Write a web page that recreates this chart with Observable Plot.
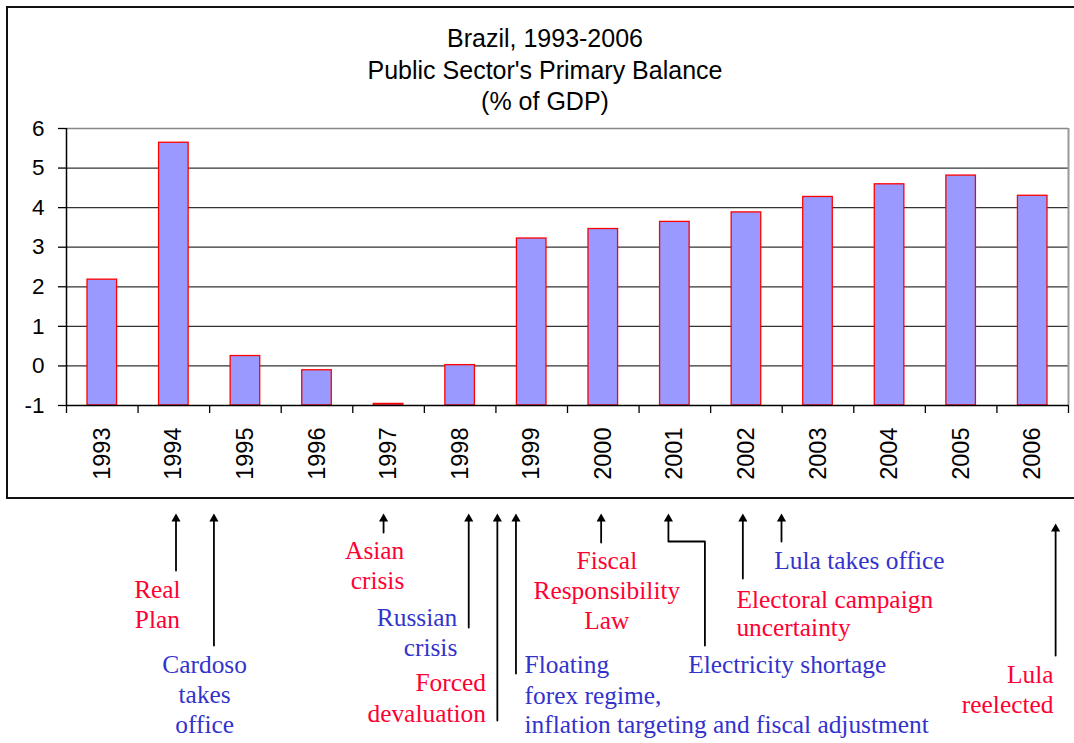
<!DOCTYPE html>
<html>
<head>
<meta charset="utf-8">
<script src="https://cdn.jsdelivr.net/npm/d3@7"></script>
<script src="https://cdn.jsdelivr.net/npm/@observablehq/plot@0.6"></script>
<style>
  html, body { margin: 0; padding: 0; background: #fff; }
  #wrap { position: relative; width: 1074px; height: 743px; overflow: hidden; }
  #box { position: absolute; left: 6px; top: 6px; width: 1100px; height: 489px; border: 2px solid #111; }
  #title { position: absolute; left: 0; width: 1090px; top: 23px; text-align: center;
           font-family: "Liberation Sans", Arial, sans-serif; font-size: 25px; line-height: 31.5px; color: #000; }
  .layer { position: absolute; left: 0; }
</style>
</head>
<body>
<div id="wrap">
  <div id="box"></div>
  <div id="title"></div>
  <div id="main" class="layer" style="top:0"></div>
  <div id="notes" class="layer" style="top:497px"></div>
</div>
<script>
// ---------- data ----------
const titleLines = ["Brazil, 1993-2006", "Public Sector's Primary Balance", "(% of GDP)"];
const years   = [1993, 1994, 1995, 1996, 1997, 1998, 1999, 2000, 2001, 2002, 2003, 2004, 2005, 2006];
const balance = [2.18, 5.64, 0.25, -0.11, -0.96, 0.02, 3.22, 3.46, 3.64, 3.88, 4.27, 4.59, 4.81, 4.30];
const yTicks  = [-1, 0, 1, 2, 3, 4, 5, 6];

// events (arrow date in fractional years)
const eventIds    = ["real", "cardoso", "asian", "russian", "forced", "floating", "fiscal", "electricity", "electoral", "lulaoffice", "lulare"];
const eventDates  = [1994.53, 1995.06, 1997.43, 1998.62, 1999.02, 1999.28, 2000.47, 2001.41, 2002.45, 2002.99, 2006.82];
const eventColors = ["red", "blue", "red", "blue", "red", "blue", "red", "blue", "red", "blue", "red"];
const eventLines  = [
  ["Real", "Plan"],
  ["Cardoso", "takes", "office"],
  ["Asian", "crisis"],
  ["Russian", "crisis"],
  ["Forced", "devaluation"],
  ["Floating", "forex regime,", "inflation targeting and fiscal adjustment"],
  ["Fiscal", "Responsibility", "Law"],
  ["Electricity shortage"],
  ["Electoral campaign", "uncertainty"],
  ["Lula takes office"],
  ["Lula", "reelected"]
];

// ---------- annotation layout ----------
const labelX      = [1994.27, 1994.93, 1997.72, 1998.46, 1998.86, 1999.40, 2000.55, 2003.07, 2002.36, 2002.89, 2006.79];
const labelAnchor = ["middle", "middle", "end", "end", "end", "start", "middle", "middle", "start", "start", "end"];
const labelBase   = [[597, 627], [672, 702, 732], [558, 588], [625, 655], [690, 721], [672, 703, 732], [568, 598, 628], [672], [607, 635], [568], [682, 712]];
const arrowTop    = [513, 513, 513, 513, 513, 513, 513, 513, 513, 513, 523];
const arrowBottom = [570, 645, 532, 627, 720, 673, 542, 645, 578, 541, 655];
const elbow = {id: "electricity", x: 2001.92, y: 541};

const palette = {red: "#ff0033", blue: "#3333cc"};

// ---------- title ----------
document.getElementById("title").innerHTML = titleLines.map(t => `<div>${t.replace("'", "&#39;")}</div>`).join("");

// ---------- main chart ----------
const data = years.map((year, i) => ({year, value: balance[i]}));
const main = Plot.plot({
  width: 1074, height: 497,
  marginLeft: 66, marginRight: 6, marginTop: 128, marginBottom: 92,
  style: {background: "transparent", fontFamily: '"Liberation Sans", Arial, sans-serif', color: "#000", overflow: "visible"},
  x: {domain: [1993, 2007], axis: null},
  y: {domain: [-1, 6], axis: null},
  marks: [
    Plot.ruleY(yTicks.filter(t => t >= 0 && t < 6), {stroke: "#333", strokeWidth: 1.2}),
    Plot.ruleY([6], {stroke: "#888", strokeWidth: 1.6}),
    Plot.ruleX([2007], {stroke: "#999", strokeWidth: 2}),
    Plot.rectY(data, {x1: "year", x2: d => d.year + 1, y1: -1, y2: "value", insetLeft: 21, insetRight: 21,
                      fill: "#9999ff", stroke: "#ff0000", strokeWidth: 1.3}),
    Plot.ruleY([-1], {stroke: "#000", strokeWidth: 1.5}),
    Plot.ruleX([1993], {stroke: "#000", strokeWidth: 1.5}),
    Plot.axisY({ticks: yTicks, tickSize: 8, tickPadding: 14, fontSize: 22.5, tickFormat: d => String(d), label: null,
                stroke: "#000", strokeWidth: 1.3, strokeOpacity: 1}),
    Plot.axisX({ticks: d3.range(1993, 2008), tickSize: 8, tickFormat: () => "", label: null,
                stroke: "#000", strokeWidth: 1.3, strokeOpacity: 1}),
    Plot.axisX({ticks: years.map(y => y + 0.5), tickSize: 0, tickPadding: 22, tickRotate: -90, fontSize: 23.5, label: null,
                tickFormat: d => String(Math.floor(d))})
  ]
});
document.getElementById("main").append(main);

// ---------- annotations ----------
const arrowPts = [];
const heads = [];
eventIds.forEach((id, i) => {
  const x = eventDates[i];
  if (id === elbow.id) {
    arrowPts.push({id, x: elbow.x, y: arrowBottom[i]}, {id, x: elbow.x, y: elbow.y},
                  {id, x, y: elbow.y}, {id, x, y: arrowTop[i] + 4});
  } else {
    arrowPts.push({id, x, y: arrowBottom[i]}, {id, x, y: arrowTop[i] + 4});
  }
  heads.push({id, x, y: arrowTop[i]});
});
const rows = [];
eventIds.forEach((id, i) => {
  eventLines[i].forEach((text, j) => rows.push({
    text, x: labelX[i], y: labelBase[i][j], anchor: labelAnchor[i], color: palette[eventColors[i]]
  }));
});
const textOpts = a => ({filter: d => d.anchor === a, x: "x", y: "y", text: "text", fill: "color",
  textAnchor: a, lineAnchor: "bottom", fontSize: 25.4, fontFamily: '"Liberation Serif", "Times New Roman", serif'});

const notes = Plot.plot({
  width: 1074, height: 246,
  marginLeft: 66, marginRight: 6, marginTop: 0, marginBottom: 0,
  style: {background: "transparent", overflow: "visible"},
  x: {domain: [1993, 2007], axis: null},
  y: {domain: [497, 743], range: [0, 246], axis: null},
  marks: [
    Plot.line(arrowPts, {x: "x", y: "y", z: "id", stroke: "#000", strokeWidth: 1.8, curve: "linear"}),
    Plot.dot(heads, {x: "x", y: d => d.y + 5.3, symbol: "triangle", r: 3.4, fill: "#000", stroke: null}),
    Plot.text(rows, textOpts("start")),
    Plot.text(rows, textOpts("middle")),
    Plot.text(rows, textOpts("end"))
  ]
});
document.getElementById("notes").append(notes);
</script>
</body>
</html>
